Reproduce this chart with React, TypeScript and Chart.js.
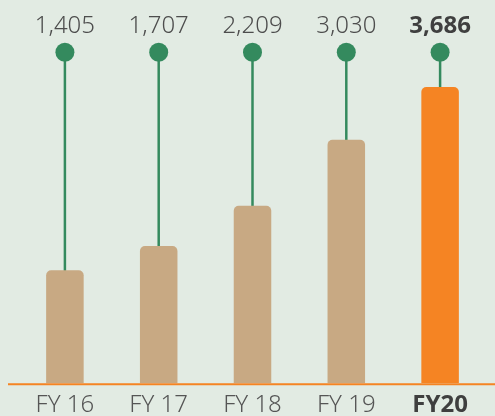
import React, { useEffect, useRef } from "react";
import { Chart, registerables } from "chart.js";

Chart.register(...registerables);

const categories = ["FY 16", "FY 17", "FY 18", "FY 19", "FY20"];
const values = [1405, 1707, 2209, 3030, 3686];
const valueLabels = ["1,405", "1,707", "2,209", "3,030", "3,686"];
const barColors = ["#c8a983", "#c8a983", "#c8a983", "#c8a983", "#f58423"];
const DOT_LEVEL = 4120;
const Y_MAX = 4212;

const BG = "#e2ebe3";
const GREEN = "#348a5e";
const FONT = "'Noto Sans', Lato, sans-serif";

const lollipop = {
  id: "lollipop",
  beforeDatasetsDraw(chart: any) {
    const { ctx } = chart;
    const y = chart.scales.y;
    const meta = chart.getDatasetMeta(0);
    ctx.save();
    meta.data.forEach((bar: any, i: number) => {
      const x = bar.x;
      const top = y.getPixelForValue(values[i]);
      const dotY = y.getPixelForValue(DOT_LEVEL);
      ctx.strokeStyle = GREEN;
      ctx.lineWidth = 2.5;
      ctx.beginPath();
      ctx.moveTo(x, top + 2);
      ctx.lineTo(x, dotY);
      ctx.stroke();
      ctx.fillStyle = GREEN;
      ctx.beginPath();
      ctx.arc(x, dotY, 9.5, 0, Math.PI * 2);
      ctx.fill();
    });
    ctx.restore();
  },
  afterDraw(chart: any) {
    const { ctx } = chart;
    const y0 = chart.scales.y.getPixelForValue(0);
    ctx.save();
    ctx.strokeStyle = "#f58423";
    ctx.lineWidth = 2;
    ctx.beginPath();
    ctx.moveTo(0, y0 + 1);
    ctx.lineTo(chart.width, y0 + 1);
    ctx.stroke();
    ctx.restore();
  },
};

export default function App() {
  const ref = useRef<HTMLCanvasElement | null>(null);
  useEffect(() => {
    if (!ref.current) return;
    const chart = new Chart(ref.current, {
      type: "bar",
      data: {
        labels: categories,
        datasets: [
          {
            data: values,
            backgroundColor: barColors,
            borderRadius: { topLeft: 5, topRight: 5, bottomLeft: 0, bottomRight: 0 },
            borderSkipped: "bottom",
            barPercentage: 0.8,
            categoryPercentage: 0.5,
          },
        ],
      },
      options: {
        responsive: false,
        animation: false,
        devicePixelRatio: 1,
        layout: { padding: { left: 10, right: 8, top: 0, bottom: 0 } },
        plugins: { legend: { display: false }, tooltip: { enabled: false } },
        scales: {
          x: {
            grid: { display: false, drawTicks: false },
            border: { display: false },
            ticks: {
              padding: 8,
              color: (c: any) => (c.index === 4 ? "#3f3f3f" : "#555555"),
              font: (c: any) => ({
                family: FONT,
                size: 24,
                weight: c.index === 4 ? "bold" : "300",
              }),
            },
          },
          x2: {
            type: "category",
            labels: valueLabels,
            position: "top",
            offset: true,
            grid: { display: false, drawTicks: false },
            border: { display: false },
            ticks: {
              padding: 4,
              color: (c: any) => (c.index === 4 ? "#3f3f3f" : "#4d4d4d"),
              font: (c: any) => ({
                family: FONT,
                size: 24,
                weight: c.index === 4 ? "bold" : "300",
              }),
            },
          },
          y: { display: false, min: 0, max: Y_MAX },
        },
      },
      plugins: [lollipop],
    });
    return () => chart.destroy();
  }, []);
  return (
    <div style={{ background: BG, position: "fixed", inset: 0, overflow: "hidden" }}>
      <canvas
        ref={ref}
        width={487}
        height={420}
        style={{ display: "block", position: "absolute", left: 8, top: 8, width: 487, height: 420 }}
      />
    </div>
  );
}
